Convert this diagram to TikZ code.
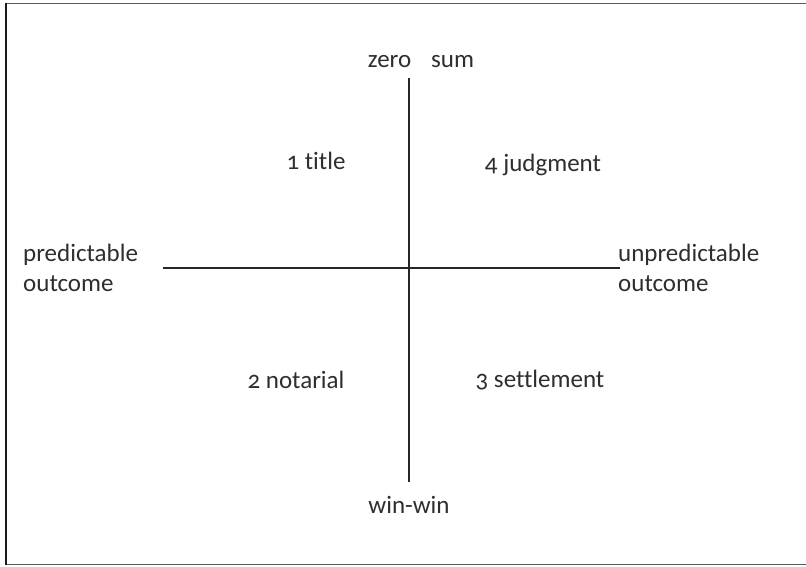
\documentclass[tikz,border=0pt]{standalone}
\usepackage{fontspec}
\setmainfont[Numbers=OldStyle,Ligatures=NoCommon]{Carlito}
\begin{document}
\begin{tikzpicture}[x=1pt,y=-1pt,
  lbl/.style={font=\fontsize{25}{30}\selectfont, text=black!82, inner sep=0pt},
  axis/.style={line width=1.6pt, draw=black!85}]
\useasboundingbox (0,0) rectangle (806,566);
\fill[white] (0,0) rectangle (806,566);
\draw[line width=1.5pt, black!65] (5,3.5) -- (806,3.5);
\draw[line width=1.5pt, black!65] (6,564.5) -- (806,564.5);
\draw[line width=2.2pt, black!90] (6,3) -- (6,565);
\coordinate (vt) at (409,78);
\coordinate (vb) at (409,482);
\coordinate (hl) at (163,268);
\coordinate (hr) at (620,268);
\draw[axis] (vt) -- (vb);
\draw[axis] (hl) -- (hr);
\node[lbl] (zs) at (421,62) {zero\hspace{0.8em}sum};
\node[lbl] (ww) at (409,505) {win-win};
\node[lbl] (t1) at (316,161) {1 title};
\node[lbl] (t4) at (543,165) {4 judgment};
\node[lbl] (t2) at (296,380) {2 notarial};
\node[lbl] (t3) at (540,380) {3 settlement};
\node[lbl, anchor=base west, align=left] (pl) at (23,291) {predictable\\outcome};
\node[lbl, anchor=base west, align=left] (ul) at (618,291) {unpredictable\\outcome};
\end{tikzpicture}
\end{document}
